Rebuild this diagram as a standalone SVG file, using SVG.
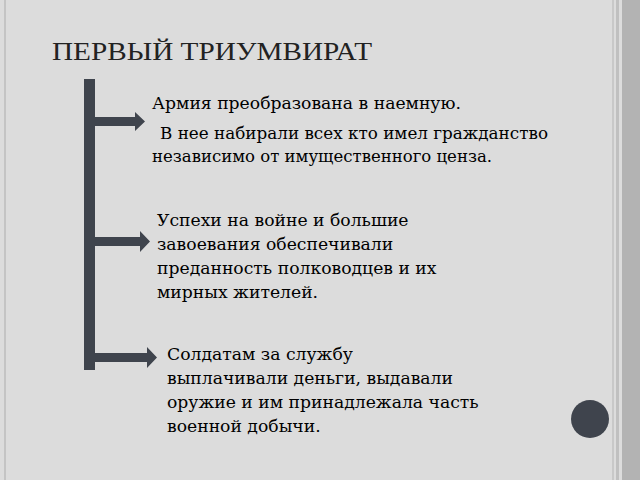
<svg xmlns="http://www.w3.org/2000/svg" width="640" height="480" viewBox="0 0 640 480">
<style>
.t{font-family:"DejaVu Serif","Liberation Serif",serif;font-size:17.2px;fill:#000}
.a{fill:#3f444d}
</style>
<rect width="640" height="480" fill="#dcdcdc"/>
<rect x="4" y="0" width="2" height="480" fill="#c4c4c4"/>
<rect x="612" y="0" width="2" height="480" fill="#c8c8c8"/>
<rect x="616" y="0" width="3" height="480" fill="#c0c0c0"/>
<rect x="622" y="0" width="18" height="480" fill="#b3b3b3"/>
<circle cx="590" cy="419" r="19" fill="#3f444d"/>
<text x="52" y="60" font-family="Liberation Serif, serif" font-size="25" fill="#222" textLength="320" lengthAdjust="spacingAndGlyphs">ПЕРВЫЙ ТРИУМВИРАТ</text>
<g id="connectors">
<rect class="a" x="84" y="79" width="11" height="291"/>
<path class="a" d="M95 117H135V112L145 121.5L135 131V126H95Z"/>
<path class="a" d="M95 237H140V231L150 241.5L140 252V246H95Z"/>
<path class="a" d="M95 353H147V347L157 357.5L147 368V362H95Z"/>
</g>
<g id="n1">
<text class="t" x="152" y="109">Армия преобразована в наемную.</text>
<text class="t" x="160" y="139" textLength="388" lengthAdjust="spacingAndGlyphs">В нее набирали всех кто имел гражданство</text>
<text class="t" x="152" y="162" textLength="340" lengthAdjust="spacingAndGlyphs">независимо от имущественного ценза.</text>
</g>
<g id="n2">
<text class="t" x="157" y="226">Успехи на войне и большие</text>
<text class="t" x="157" y="250">завоевания обеспечивали</text>
<text class="t" x="157" y="274">преданность полководцев и их</text>
<text class="t" x="157" y="298">мирных жителей.</text>
</g>
<g id="n3">
<text class="t" x="167" y="360">Солдатам за службу</text>
<text class="t" x="167" y="384">выплачивали деньги, выдавали</text>
<text class="t" x="167" y="408">оружие и им принадлежала часть</text>
<text class="t" x="167" y="432">военной добычи.</text>
</g>
</svg>
